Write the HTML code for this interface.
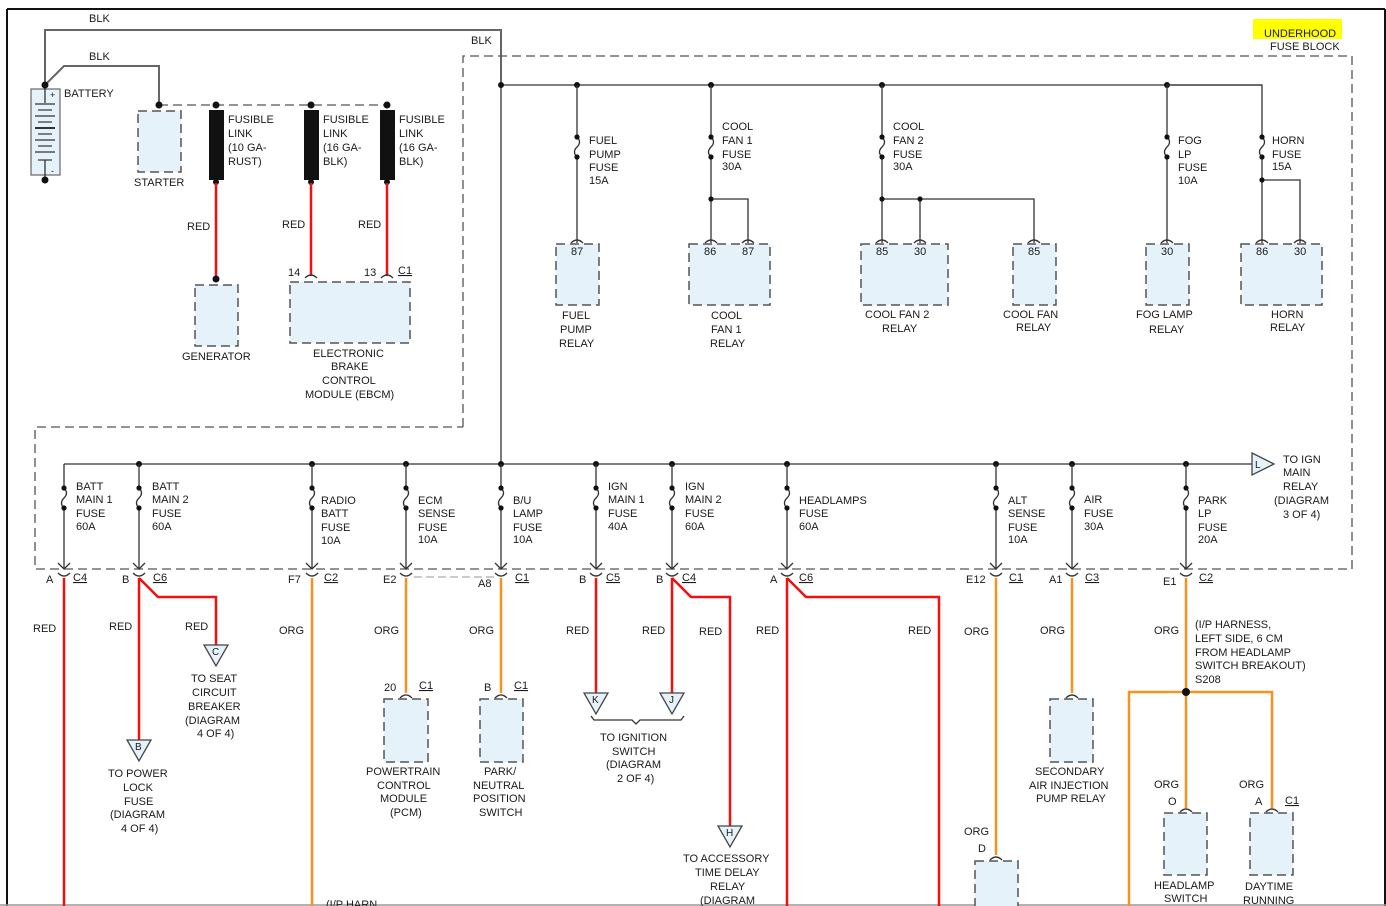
<!DOCTYPE html>
<html><head><meta charset="utf-8"><style>
html,body{margin:0;padding:0;background:#fff;}
svg{display:block;}
text{font-family:"Liberation Sans",sans-serif;font-size:11px;fill:#1a1a1a;}
.w{stroke:#333;stroke-width:1.3;fill:none;}
.g{stroke:#666;stroke-width:2;fill:none;}
.d{stroke:#555;stroke-width:1.3;fill:none;stroke-dasharray:9,5;}
.r{stroke:#f01010;stroke-width:2.5;fill:none;}
.o{stroke:#f7921e;stroke-width:2.5;fill:none;}
.box{fill:#e6f2fa;stroke:#555;stroke-width:1.5;stroke-dasharray:9,5;}
.tri{fill:#e6f2fa;stroke:#444;stroke-width:1.3;}
.u{text-decoration:underline;}
</style></head><body>
<svg width="1386" height="906" viewBox="0 0 1386 906" xmlns="http://www.w3.org/2000/svg">
<!-- frame -->
<line x1="7" y1="9" x2="7" y2="906" stroke="#111" stroke-width="2"/>
<line x1="7" y1="9" x2="1385" y2="9" stroke="#111" stroke-width="2"/>
<line x1="1385" y1="9" x2="1385" y2="906" stroke="#111" stroke-width="2"/>
<line x1="0" y1="905" x2="1386" y2="905" stroke="#999" stroke-width="1.5"/>

<!-- BLK wires -->
<polyline class="g" points="45,85 45,30 501,30 501,85"/>
<polyline class="g" points="45,85 64,66 159,66 159,105"/>
<text x="89" y="22">BLK</text><text x="89" y="60">BLK</text><text x="471" y="44">BLK</text>
<line class="w" x1="501" y1="85" x2="501" y2="464"/>

<!-- battery -->
<rect x="31" y="89" width="29" height="86" fill="#e6f2fa" stroke="#666" stroke-width="1.2"/>
<line class="w" x1="45" y1="85" x2="45" y2="103"/><line class="w" x1="45" y1="160" x2="45" y2="180"/>
<g stroke="#333" stroke-width="1.2">
<line x1="35" y1="104" x2="55" y2="104"/><line x1="38" y1="110" x2="52" y2="110"/>
<line x1="35" y1="116" x2="55" y2="116"/><line x1="38" y1="122" x2="52" y2="122"/>
<line x1="35" y1="128" x2="55" y2="128" stroke-width="2"/><line x1="38" y1="134" x2="52" y2="134"/>
<line x1="35" y1="140" x2="55" y2="140"/><line x1="38" y1="146" x2="52" y2="146"/>
<line x1="35" y1="152" x2="55" y2="152"/><line x1="38" y1="160" x2="52" y2="160"/>
</g>
<text x="50" y="98" style="font-size:9px">+</text><text x="51" y="174" style="font-size:9px">-</text>
<circle cx="45" cy="85" r="3.5" fill="#111"/><circle cx="45" cy="180" r="3.5" fill="#111"/>
<text x="64" y="97">BATTERY</text>

<!-- starter / fusible links -->
<line class="d" x1="159" y1="105" x2="388" y2="105"/>
<circle cx="159" cy="105" r="3.5" fill="#111"/>
<rect class="box" x="138" y="111" width="43" height="61"/>
<text x="134" y="186">STARTER</text>
<g fill="#111">
<circle cx="216" cy="105" r="3.5"/><rect x="209" y="110" width="15" height="70"/><circle cx="216" cy="182" r="3"/>
<circle cx="311" cy="105" r="3.5"/><rect x="304" y="110" width="15" height="70"/><circle cx="311" cy="182" r="3"/>
<circle cx="387" cy="105" r="3.5"/><rect x="380" y="110" width="15" height="70"/><circle cx="387" cy="182" r="3"/>
</g>
<text x="228" y="123">FUSIBLE</text><text x="228" y="137">LINK</text><text x="228" y="151">(10 GA-</text><text x="228" y="165">RUST)</text>
<text x="323" y="123">FUSIBLE</text><text x="323" y="137">LINK</text><text x="323" y="151">(16 GA-</text><text x="323" y="165">BLK)</text>
<text x="399" y="123">FUSIBLE</text><text x="399" y="137">LINK</text><text x="399" y="151">(16 GA-</text><text x="399" y="165">BLK)</text>
<line class="r" x1="216" y1="183" x2="216" y2="279"/><circle cx="216" cy="279" r="3.5" fill="#111"/>
<line class="r" x1="311" y1="183" x2="311" y2="276"/><line class="r" x1="387" y1="183" x2="387" y2="276"/>
<text x="187" y="230">RED</text><text x="282" y="228">RED</text><text x="358" y="228">RED</text>
<rect class="box" x="195" y="285" width="43" height="61"/>
<text x="182" y="360">GENERATOR</text>
<path class="w" d="M305,278 q6,-6 12,0 M381,278 q6,-6 12,0"/>
<text x="288" y="276">14</text><text x="364" y="276">13</text><text x="398" y="274" class="u">C1</text>
<rect class="box" x="290" y="282" width="120" height="61"/>
<text x="313" y="357">ELECTRONIC</text><text x="331" y="370">BRAKE</text><text x="322" y="384">CONTROL</text><text x="305" y="398">MODULE (EBCM)</text>

<!-- fuse block boundary -->
<path class="d" d="M463,427 L463,56 L1352,56 L1352,569 L35,569 L35,427 L463,427"/>
<rect x="1253" y="19" width="89" height="20" fill="#ffff00"/>
<text x="1264" y="37">UNDERHOOD</text><text x="1270" y="50">FUSE BLOCK</text>

<!-- top bus -->
<line class="w" x1="501" y1="85" x2="1262" y2="85"/>
<g fill="#111"><circle cx="501" cy="85" r="3"/><circle cx="577" cy="85" r="3"/><circle cx="711" cy="85" r="3"/><circle cx="882" cy="85" r="3"/><circle cx="1167" cy="85" r="3"/></g>
<!-- fuel pump -->
<path class="w" d="M577,85 V137 q5,5 0,10 q-5,5 0,10 V243"/>
<!-- fan1 -->
<path class="w" d="M711,85 V137 q5,5 0,10 q-5,5 0,10 V243 M711,199 H748 V243"/>
<!-- fan2 -->
<path class="w" d="M882,85 V137 q5,5 0,10 q-5,5 0,10 V243 M882,199 H1034 V243 M920,199 V243"/>
<!-- fog -->
<path class="w" d="M1167,85 V137 q5,5 0,10 q-5,5 0,10 V243"/>
<!-- horn -->
<path class="w" d="M1167,85 H1262 V137 q5,5 0,10 q-5,5 0,10 V243 M1262,180 H1300 V243"/>
<g fill="#111">
<circle cx="577" cy="137" r="2.6"/><circle cx="577" cy="157" r="2.6"/>
<circle cx="711" cy="137" r="2.6"/><circle cx="711" cy="157" r="2.6"/><circle cx="711" cy="199" r="2.6"/>
<circle cx="882" cy="137" r="2.6"/><circle cx="882" cy="157" r="2.6"/><circle cx="882" cy="199" r="2.6"/><circle cx="920" cy="199" r="2.6"/>
<circle cx="1167" cy="137" r="2.6"/><circle cx="1167" cy="157" r="2.6"/>
<circle cx="1262" cy="137" r="2.6"/><circle cx="1262" cy="157" r="2.6"/><circle cx="1262" cy="180" r="2.6"/>
</g>
<text x="589" y="144">FUEL</text><text x="589" y="158">PUMP</text><text x="589" y="171">FUSE</text><text x="589" y="184">15A</text>
<text x="722" y="130">COOL</text><text x="722" y="144">FAN 1</text><text x="722" y="158">FUSE</text><text x="722" y="170">30A</text>
<text x="893" y="130">COOL</text><text x="893" y="144">FAN 2</text><text x="893" y="158">FUSE</text><text x="893" y="170">30A</text>
<text x="1178" y="144">FOG</text><text x="1178" y="158">LP</text><text x="1178" y="171">FUSE</text><text x="1178" y="184">10A</text>
<text x="1272" y="144">HORN</text><text x="1272" y="158">FUSE</text><text x="1272" y="170">15A</text>
<path class="w" d="M571,243 q6,-6 12,0 M705,243 q6,-6 12,0 M742,243 q6,-6 12,0 M876,243 q6,-6 12,0 M914,243 q6,-6 12,0 M1028,243 q6,-6 12,0 M1161,243 q6,-6 12,0 M1256,243 q6,-6 12,0 M1294,243 q6,-6 12,0"/>
<rect class="box" x="556" y="244" width="43" height="61"/>
<rect class="box" x="689" y="244" width="81" height="61"/>
<rect class="box" x="861" y="244" width="87" height="61"/>
<rect class="box" x="1013" y="244" width="43" height="61"/>
<rect class="box" x="1146" y="244" width="43" height="61"/>
<rect class="box" x="1241" y="244" width="81" height="61"/>
<text x="571" y="255">87</text><text x="704" y="255">86</text><text x="742" y="255">87</text>
<text x="876" y="255">85</text><text x="914" y="255">30</text><text x="1028" y="255">85</text>
<text x="1161" y="255">30</text><text x="1256" y="255">86</text><text x="1294" y="255">30</text>
<text x="562" y="319">FUEL</text><text x="560" y="333">PUMP</text><text x="559" y="347">RELAY</text>
<text x="711" y="319">COOL</text><text x="711" y="333">FAN 1</text><text x="710" y="347">RELAY</text>
<text x="865" y="318">COOL FAN 2</text><text x="882" y="332">RELAY</text>
<text x="1003" y="318">COOL FAN</text><text x="1016" y="331">RELAY</text>
<text x="1136" y="318">FOG LAMP</text><text x="1149" y="333">RELAY</text>
<text x="1271" y="318">HORN</text><text x="1270" y="331">RELAY</text>

<!-- lower bus -->
<line class="w" x1="64" y1="464" x2="1252" y2="464"/>
<polygon class="tri" points="1252,453 1274,464 1252,475"/>
<text x="1255" y="468" style="font-size:10px">L</text>
<text x="1283" y="463">TO IGN</text><text x="1283" y="476">MAIN</text><text x="1283" y="490">RELAY</text><text x="1274" y="504">(DIAGRAM</text><text x="1283" y="518">3 OF 4)</text>
<g fill="#111">
<circle cx="139" cy="464" r="3"/><circle cx="312" cy="464" r="3"/><circle cx="406" cy="464" r="3"/><circle cx="501" cy="464" r="3"/>
<circle cx="596" cy="464" r="3"/><circle cx="672" cy="464" r="3"/><circle cx="787" cy="464" r="3"/><circle cx="996" cy="464" r="3"/>
<circle cx="1072" cy="464" r="3"/><circle cx="1186" cy="464" r="3"/>
</g>
<path class="w" d="M64,464 V488 q5,5 0,10 q-5,5 0,10 V569
M139,464 V488 q5,5 0,10 q-5,5 0,10 V569
M312,464 V488 q5,5 0,10 q-5,5 0,10 V569
M406,464 V488 q5,5 0,10 q-5,5 0,10 V569
M501,464 V488 q5,5 0,10 q-5,5 0,10 V569
M596,464 V488 q5,5 0,10 q-5,5 0,10 V569
M672,464 V488 q5,5 0,10 q-5,5 0,10 V569
M787,464 V488 q5,5 0,10 q-5,5 0,10 V569
M996,464 V488 q5,5 0,10 q-5,5 0,10 V569
M1072,464 V488 q5,5 0,10 q-5,5 0,10 V569
M1186,464 V488 q5,5 0,10 q-5,5 0,10 V569"/>
<g fill="#111">
<circle cx="64" cy="488" r="2.6"/><circle cx="64" cy="508" r="2.6"/><circle cx="139" cy="488" r="2.6"/><circle cx="139" cy="508" r="2.6"/>
<circle cx="312" cy="488" r="2.6"/><circle cx="312" cy="508" r="2.6"/><circle cx="406" cy="488" r="2.6"/><circle cx="406" cy="508" r="2.6"/>
<circle cx="501" cy="488" r="2.6"/><circle cx="501" cy="508" r="2.6"/><circle cx="596" cy="488" r="2.6"/><circle cx="596" cy="508" r="2.6"/>
<circle cx="672" cy="488" r="2.6"/><circle cx="672" cy="508" r="2.6"/><circle cx="787" cy="488" r="2.6"/><circle cx="787" cy="508" r="2.6"/>
<circle cx="996" cy="488" r="2.6"/><circle cx="996" cy="508" r="2.6"/><circle cx="1072" cy="488" r="2.6"/><circle cx="1072" cy="508" r="2.6"/>
<circle cx="1186" cy="488" r="2.6"/><circle cx="1186" cy="508" r="2.6"/>
</g>
<!-- arrow/cup connectors -->
<path class="w" d="M58,563 L64,569 L70,563 M133,563 L139,569 L145,563 M306,563 L312,569 L318,563 M400,563 L406,569 L412,563 M495,563 L501,569 L507,563 M590,563 L596,569 L602,563 M666,563 L672,569 L678,563 M781,563 L787,569 L793,563 M990,563 L996,569 L1002,563 M1066,563 L1072,569 L1078,563 M1180,563 L1186,569 L1192,563"/>
<path class="w" d="M58,573 q6,6 12,0 M133,573 q6,6 12,0 M306,573 q6,6 12,0 M400,573 q6,6 12,0 M495,573 q6,6 12,0 M590,573 q6,6 12,0 M666,573 q6,6 12,0 M781,573 q6,6 12,0 M990,573 q6,6 12,0 M1066,573 q6,6 12,0 M1180,573 q6,6 12,0"/>
<line x1="414" y1="577" x2="494" y2="577" stroke="#aaa" stroke-width="1.3" stroke-dasharray="8,4"/>

<text x="76" y="490">BATT</text><text x="76" y="503">MAIN 1</text><text x="76" y="517">FUSE</text><text x="76" y="530">60A</text>
<text x="152" y="490">BATT</text><text x="152" y="503">MAIN 2</text><text x="152" y="517">FUSE</text><text x="152" y="530">60A</text>
<text x="321" y="504">RADIO</text><text x="321" y="517">BATT</text><text x="321" y="531">FUSE</text><text x="321" y="544">10A</text>
<text x="418" y="504">ECM</text><text x="418" y="517">SENSE</text><text x="418" y="531">FUSE</text><text x="418" y="543">10A</text>
<text x="513" y="504">B/U</text><text x="513" y="517">LAMP</text><text x="513" y="531">FUSE</text><text x="513" y="543">10A</text>
<text x="608" y="490">IGN</text><text x="608" y="503">MAIN 1</text><text x="608" y="517">FUSE</text><text x="608" y="530">40A</text>
<text x="685" y="490">IGN</text><text x="685" y="503">MAIN 2</text><text x="685" y="517">FUSE</text><text x="685" y="530">60A</text>
<text x="799" y="504">HEADLAMPS</text><text x="799" y="517">FUSE</text><text x="799" y="530">60A</text>
<text x="1008" y="504">ALT</text><text x="1008" y="517">SENSE</text><text x="1008" y="531">FUSE</text><text x="1008" y="543">10A</text>
<text x="1084" y="503">AIR</text><text x="1084" y="517">FUSE</text><text x="1084" y="530">30A</text>
<text x="1198" y="504">PARK</text><text x="1198" y="517">LP</text><text x="1198" y="531">FUSE</text><text x="1198" y="543">20A</text>

<text x="46" y="583">A</text><text x="73" y="581" class="u">C4</text>
<text x="122" y="583">B</text><text x="153" y="581" class="u">C6</text>
<text x="288" y="583">F7</text><text x="324" y="581" class="u">C2</text>
<text x="383" y="583">E2</text><text x="478" y="587">A8</text><text x="515" y="581" class="u">C1</text>
<text x="579" y="583">B</text><text x="606" y="581" class="u">C5</text>
<text x="656" y="583">B</text><text x="682" y="581" class="u">C4</text>
<text x="770" y="583">A</text><text x="799" y="581" class="u">C6</text>
<text x="966" y="583">E12</text><text x="1009" y="581" class="u">C1</text>
<text x="1049" y="583">A1</text><text x="1085" y="581" class="u">C3</text>
<text x="1163" y="585">E1</text><text x="1199" y="581" class="u">C2</text>

<!-- lower wires -->
<line class="r" x1="64" y1="578" x2="64" y2="906"/>
<line class="r" x1="139" y1="578" x2="139" y2="740"/>
<polyline class="r" points="139,578 158,597 216,597 216,645"/>
<line class="o" x1="312" y1="578" x2="312" y2="906"/>
<line class="o" x1="406" y1="578" x2="406" y2="693"/>
<line class="o" x1="501" y1="578" x2="501" y2="693"/>
<line class="r" x1="596" y1="578" x2="596" y2="693"/>
<line class="r" x1="672" y1="578" x2="672" y2="693"/>
<polyline class="r" points="672,578 691,597 730,597 730,826"/>
<line class="r" x1="787" y1="578" x2="787" y2="906"/>
<polyline class="r" points="787,578 806,597 939,597 939,906"/>
<line class="o" x1="996" y1="578" x2="996" y2="855"/>
<line class="o" x1="1072" y1="578" x2="1072" y2="693"/>
<line class="o" x1="1186" y1="578" x2="1186" y2="808"/>
<polyline class="o" points="1129,906 1129,692 1272,692 1272,808"/>
<circle cx="1186" cy="692" r="4" fill="#111"/>

<text x="33" y="632">RED</text><text x="109" y="630">RED</text><text x="185" y="630">RED</text>
<text x="279" y="634">ORG</text><text x="374" y="634">ORG</text><text x="469" y="634">ORG</text>
<text x="566" y="634">RED</text><text x="642" y="634">RED</text><text x="699" y="635">RED</text>
<text x="756" y="634">RED</text><text x="908" y="634">RED</text>
<text x="964" y="635">ORG</text><text x="1040" y="634">ORG</text><text x="1154" y="634">ORG</text>
<text x="1195" y="628">(I/P HARNESS,</text><text x="1195" y="642">LEFT SIDE, 6 CM</text><text x="1195" y="656">FROM HEADLAMP</text><text x="1195" y="669">SWITCH BREAKOUT)</text><text x="1195" y="683">S208</text>

<!-- triangles -->
<polygon class="tri" points="127,740 151,740 139,761"/><text x="135" y="750" style="font-size:10px">B</text>
<polygon class="tri" points="204,645 228,645 216,666"/><text x="212" y="655" style="font-size:10px">C</text>
<polygon class="tri" points="584,693 608,693 596,714"/><text x="592" y="703" style="font-size:10px">K</text>
<polygon class="tri" points="660,693 684,693 672,714"/><text x="669" y="703" style="font-size:10px">J</text>
<polygon class="tri" points="718,826 742,826 730,847"/><text x="726" y="836" style="font-size:10px">H</text>
<path class="w" d="M591,716 l3,4 h38 l4,4 l4,-4 h41 l3,-4"/>

<text x="108" y="777">TO POWER</text><text x="123" y="791">LOCK</text><text x="124" y="805">FUSE</text><text x="110" y="818">(DIAGRAM</text><text x="121" y="832">4 OF 4)</text>
<text x="191" y="682">TO SEAT</text><text x="192" y="696">CIRCUIT</text><text x="188" y="710">BREAKER</text><text x="185" y="724">(DIAGRAM</text><text x="197" y="737">4 OF 4)</text>
<text x="600" y="741">TO IGNITION</text><text x="612" y="755">SWITCH</text><text x="606" y="768">(DIAGRAM</text><text x="617" y="782">2 OF 4)</text>
<text x="683" y="862">TO ACCESSORY</text><text x="695" y="876">TIME DELAY</text><text x="710" y="890">RELAY</text><text x="700" y="904">(DIAGRAM</text>
<text x="326" y="908">(I/P HARN</text>

<!-- boxes lower -->
<path class="w" d="M400,698 q6,-6 12,0 M495,698 q6,-6 12,0 M1066,698 q6,-6 12,0 M990,860 q6,-6 12,0 M1180,812 q6,-6 12,0 M1266,812 q6,-6 12,0"/>
<text x="384" y="691">20</text><text x="419" y="689" class="u">C1</text>
<text x="484" y="691">B</text><text x="514" y="689" class="u">C1</text>
<rect class="box" x="384" y="699" width="44" height="63"/>
<rect class="box" x="480" y="699" width="43" height="63"/>
<rect class="box" x="1050" y="699" width="43" height="63"/>
<rect class="box" x="975" y="861" width="43" height="50"/>
<rect class="box" x="1164" y="813" width="43" height="62"/>
<rect class="box" x="1250" y="813" width="43" height="62"/>
<text x="366" y="775">POWERTRAIN</text><text x="377" y="789">CONTROL</text><text x="380" y="802">MODULE</text><text x="390" y="816">(PCM)</text>
<text x="484" y="775">PARK/</text><text x="473" y="789">NEUTRAL</text><text x="473" y="802">POSITION</text><text x="479" y="816">SWITCH</text>
<text x="1035" y="775">SECONDARY</text><text x="1029" y="789">AIR INJECTION</text><text x="1036" y="802">PUMP RELAY</text>
<text x="964" y="835">ORG</text><text x="978" y="852">D</text>
<text x="1154" y="788">ORG</text><text x="1168" y="805">O</text>
<text x="1239" y="788">ORG</text><text x="1255" y="805">A</text><text x="1285" y="804" class="u">C1</text>
<text x="1154" y="889">HEADLAMP</text><text x="1164" y="902">SWITCH</text>
<text x="1245" y="890">DAYTIME</text><text x="1243" y="904">RUNNING</text>
</svg>
</body></html>
